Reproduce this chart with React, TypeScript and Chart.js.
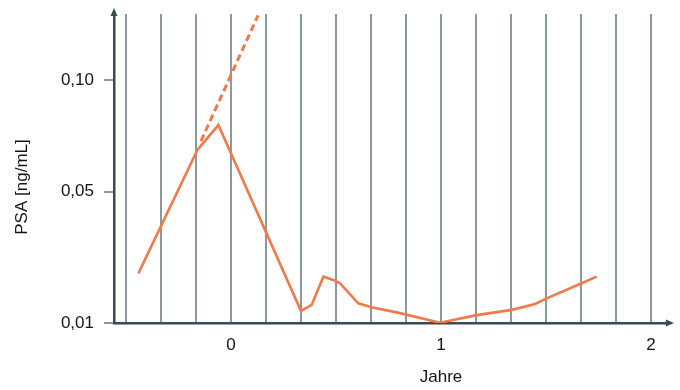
import React, { useEffect, useRef } from "react";
import { Chart, registerables, LinearScale } from "chart.js";

// ---- data ----
const YEARS = [-0.441, -0.16, -0.06, 0.333, 0.384, 0.44, 0.487, 0.519, 0.606, 0.67, 0.805, 0.995, 1.17, 1.337, 1.448, 1.503, 1.67, 1.741];
const PSA = [0.0251, 0.0686, 0.0798, 0.0137, 0.0155, 0.0241, 0.0231, 0.0221, 0.016, 0.0148, 0.0130, 0.0101, 0.0124, 0.0140, 0.0158, 0.0175, 0.0221, 0.0241];
const TREND_YEARS = [-0.143, 0.129];
const TREND_PSA = [0.0726, 0.129];
const X_GRID = [-0.5, -0.3333, -0.1667, 0, 0.1667, 0.3333, 0.5, 0.6667, 0.8333, 1, 1.1667, 1.3333, 1.5, 1.6667, 1.8333, 2];
const Y_TICKS = [0.01, 0.05, 0.1];
const X_TITLE = "Jahre";
const Y_TITLE = "PSA [ng/mL]";

// axis breakpoints of the (non-uniform) PSA axis
const BREAK_VALUES = [0.01, 0.05, 0.1];
const BREAK_UNITS = [0, 131.5, 243];

function toUnit(v: number) {
  const i = v < BREAK_VALUES[1] ? 0 : 1;
  return BREAK_UNITS[i] + ((v - BREAK_VALUES[i]) * (BREAK_UNITS[i + 1] - BREAK_UNITS[i])) / (BREAK_VALUES[i + 1] - BREAK_VALUES[i]);
}
function fromUnit(u: number) {
  const i = u < BREAK_UNITS[1] ? 0 : 1;
  return BREAK_VALUES[i] + ((u - BREAK_UNITS[i]) * (BREAK_VALUES[i + 1] - BREAK_VALUES[i])) / (BREAK_UNITS[i + 1] - BREAK_UNITS[i]);
}

class PiecewiseScale extends (LinearScale as any) {
  static id = "piecewise";
  static defaults = (LinearScale as any).defaults;
  getPixelForValue(value: number) {
    const self = this as any;
    const umin = toUnit(self.min);
    const umax = toUnit(self.max);
    return self.getPixelForDecimal((toUnit(value) - umin) / (umax - umin));
  }
  getValueForPixel(pixel: number) {
    const self = this as any;
    const umin = toUnit(self.min);
    const umax = toUnit(self.max);
    return fromUnit(umin + self.getDecimalForPixel(pixel) * (umax - umin));
  }
}

Chart.register(...registerables, PiecewiseScale as any);

const FONT = '"Liberation Sans", Arial, sans-serif';
const ORANGE = "#ef7a4c";
const GRID = "#8c98a0";
const AXIS = "#3b4b55";
const TEXT = "#151515";

const decorPlugin = {
  id: "decor",
  afterDraw(chart: any) {
    const ctx = chart.ctx;
    const x = chart.scales.x;
    const area = chart.chartArea;
    ctx.save();
    ctx.fillStyle = AXIS;
    ctx.strokeStyle = AXIS;
    ctx.lineWidth = 2.5;
    // y arrow
    ctx.beginPath();
    ctx.moveTo(area.left, area.top + 2);
    ctx.lineTo(area.left, area.top - 2);
    ctx.stroke();
    ctx.beginPath();
    ctx.moveTo(area.left, area.top - 6);
    ctx.lineTo(area.left - 3.5, area.top + 2);
    ctx.lineTo(area.left + 3.5, area.top + 2);
    ctx.closePath();
    ctx.fill();
    // x arrow
    ctx.beginPath();
    ctx.moveTo(area.right - 2, area.bottom);
    ctx.lineTo(area.right + 2, area.bottom);
    ctx.stroke();
    ctx.beginPath();
    ctx.moveTo(area.right + 7, area.bottom);
    ctx.lineTo(area.right - 1, area.bottom - 3.5);
    ctx.lineTo(area.right - 1, area.bottom + 3.5);
    ctx.closePath();
    ctx.fill();
    // titles
    ctx.fillStyle = TEXT;
    ctx.font = `17px ${FONT}`;
    ctx.textAlign = "center";
    ctx.textBaseline = "middle";
    ctx.fillText(X_TITLE, x.getPixelForValue(1), 377);
    ctx.translate(22, 187);
    ctx.rotate(-Math.PI / 2);
    ctx.fillText(Y_TITLE, 0, 0);
    ctx.restore();
  },
};

export default function App() {
  const ref = useRef<HTMLCanvasElement | null>(null);
  useEffect(() => {
    if (!ref.current) return;
    const chart = new Chart(ref.current, {
      type: "line",
      data: {
        datasets: [
          {
            data: YEARS.map((x, i) => ({ x, y: PSA[i] })),
            borderColor: ORANGE,
            borderWidth: 2.6,
            pointRadius: 0,
            tension: 0,
          },
          {
            data: TREND_YEARS.map((x, i) => ({ x, y: TREND_PSA[i] })),
            borderColor: ORANGE,
            borderWidth: 3,
            borderDash: [7, 4],
            pointRadius: 0,
            clip: false as any,
          },
        ],
      },
      options: {
        animation: false,
        responsive: false,
        maintainAspectRatio: false,
        layout: { padding: { top: 14, right: 13, left: 0, bottom: 0 } },
        plugins: { legend: { display: false }, tooltip: { enabled: false }, title: { display: false } },
        scales: {
          x: {
            type: "linear",
            min: -0.557,
            max: 2.076,
            afterBuildTicks: (s: any) => {
              s.ticks = X_GRID.map((v) => ({ value: v }));
            },
            afterFit: (s: any) => {
              s.height = 67;
              s.paddingLeft = 0;
              s.paddingRight = 0;
            },
            grid: { color: GRID, lineWidth: 2, drawTicks: false },
            border: { color: AXIS, width: 2.5 },
            ticks: {
              autoSkip: false,
              maxRotation: 0,
              padding: 12,
              color: TEXT,
              font: { family: FONT, size: 17 },
              callback: (v: any) => (Math.abs(v - Math.round(v)) < 1e-6 ? String(Math.round(v)) : ""),
            },
          },
          y: {
            type: "piecewise" as any,
            min: 0.01,
            max: 0.1296,
            afterBuildTicks: (s: any) => {
              s.ticks = Y_TICKS.map((v) => ({ value: v }));
            },
            afterFit: (s: any) => {
              s.width = 114;
              s.paddingTop = 0;
              s.paddingBottom = 0;
            },
            grid: { drawOnChartArea: false, drawTicks: true, tickLength: 10, color: GRID, lineWidth: 2 },
            border: { color: AXIS, width: 2.5 },
            ticks: {
              padding: 10,
              color: TEXT,
              font: { family: FONT, size: 17 },
              callback: (v: any) => Number(v).toFixed(2).replace(".", ","),
            },
          },
        } as any,
      },
      plugins: [decorPlugin],
    });
    return () => chart.destroy();
  }, []);
  return (
    <div style={{ position: "absolute", left: 0, top: 0, width: 680, height: 390, background: "#fff" }}>
      <canvas ref={ref} width={680} height={390} style={{ width: 680, height: 390 }} />
    </div>
  );
}
